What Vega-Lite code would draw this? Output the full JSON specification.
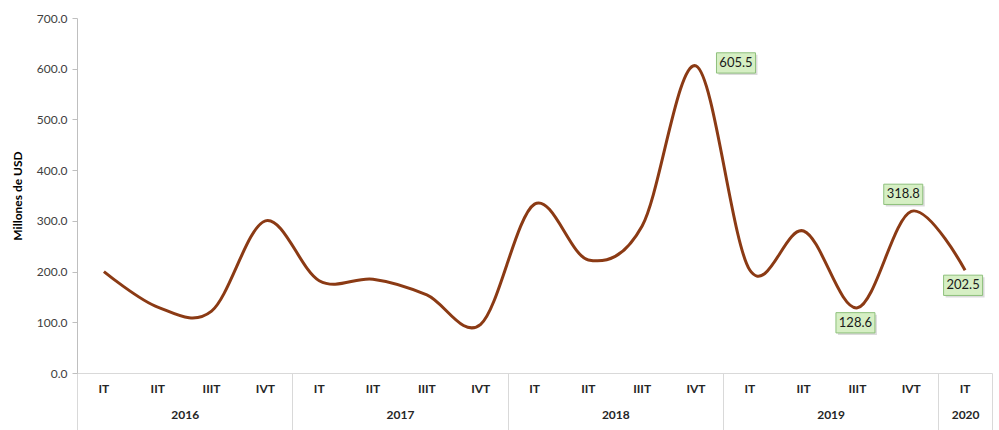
{
  "$schema": "https://vega.github.io/schema/vega-lite/v6.json",
  "width": 915,
  "height": 355,
  "autosize": {"type": "none"},
  "padding": {"left": 77, "top": 18, "right": 7, "bottom": 57},
  "background": "white",
  "config": {"view": {"stroke": null}, "font": "Lato"},
  "data": {
    "values": [
      {"key": "2016|IT", "year": "2016", "quarter": "IT", "value": 200},
      {"key": "2016|IIT", "year": "2016", "quarter": "IIT", "value": 130},
      {"key": "2016|IIIT", "year": "2016", "quarter": "IIIT", "value": 122},
      {"key": "2016|IVT", "year": "2016", "quarter": "IVT", "value": 300},
      {"key": "2017|IT", "year": "2017", "quarter": "IT", "value": 182},
      {"key": "2017|IIT", "year": "2017", "quarter": "IIT", "value": 185},
      {"key": "2017|IIIT", "year": "2017", "quarter": "IIIT", "value": 154},
      {"key": "2017|IVT", "year": "2017", "quarter": "IVT", "value": 96},
      {"key": "2018|IT", "year": "2018", "quarter": "IT", "value": 333},
      {"key": "2018|IIT", "year": "2018", "quarter": "IIT", "value": 223},
      {"key": "2018|IIIT", "year": "2018", "quarter": "IIIT", "value": 290},
      {"key": "2018|IVT", "year": "2018", "quarter": "IVT", "value": 605.5},
      {"key": "2019|IT", "year": "2019", "quarter": "IT", "value": 203},
      {"key": "2019|IIT", "year": "2019", "quarter": "IIT", "value": 280},
      {"key": "2019|IIIT", "year": "2019", "quarter": "IIIT", "value": 128.6},
      {"key": "2019|IVT", "year": "2019", "quarter": "IVT", "value": 318.8},
      {"key": "2020|IT", "year": "2020", "quarter": "IT", "value": 202.5}
    ]
  },
  "layer": [
    {
      "mark": {"type": "line", "interpolate": "cardinal", "color": "#8B3A14", "strokeWidth": 3},
      "encoding": {
        "x": {
          "field": "key", "type": "ordinal", "sort": null,
          "scale": {"type": "band", "paddingInner": 0, "paddingOuter": 0},
          "axis": {
            "orient": "bottom", "title": null, "domain": false, "ticks": false, "tickSize": 0,
            "grid": false, "labelAngle": 0,
            "labelExpr": "split(datum.value, '|')[1]",
            "labelFontWeight": "bold", "labelFontSize": 12, "labelColor": "#262626",
            "labelBaseline": "middle", "labelPadding": 15
          }
        },
        "y": {
          "field": "value", "type": "quantitative",
          "scale": {"domain": [0, 700]},
          "axis": {
            "title": "Millones de USD", "titleFontWeight": "bold", "titleFontSize": 12,
            "titleColor": "#000000", "titlePadding": 12,
            "format": ".1f", "values": [0, 100, 200, 300, 400, 500, 600, 700],
            "grid": false, "tickSize": 5, "tickColor": "#bfbfbf", "domainColor": "#bfbfbf",
            "labelFontSize": 12, "labelColor": "#404040", "labelPadding": 5
          }
        }
      }
    },
    {
      "mark": {"type": "point", "opacity": 0},
      "encoding": {
        "x": {
          "field": "key", "type": "ordinal", "sort": null,
          "scale": {"type": "band", "paddingInner": 0, "paddingOuter": 0},
          "axis": {
            "orient": "bottom", "title": null, "grid": false, "labelAngle": 0,
            "domain": true, "domainColor": "#d9d9d9",
            "ticks": true, "tickBand": "extent", "tickSize": 57,
            "tickColor": {"condition": {"test": "datum.value && split(datum.value, '|')[1] != 'IVT' && datum.value != '2020|IT'", "value": "transparent"}, "value": "#d9d9d9"},
            "labelExpr": "split(datum.value, '|')[1] == 'IIT' || datum.value == '2020|IT' ? split(datum.value, '|')[0] : ''",
            "labelOffset": {"condition": {"test": "datum.value == '2020|IT'", "value": 0}, "value": 27},
            "labelFontWeight": "bold", "labelFontSize": 12, "labelColor": "#262626",
            "labelBaseline": "middle", "labelPadding": -16
          }
        },
        "y": {"field": "value", "type": "quantitative"}
      }
    },
    {
      "transform": [{"filter": "datum.key == '2018|IVT'"}],
      "encoding": {
        "x": {"field": "key", "type": "ordinal", "sort": null, "scale": {"type": "band", "paddingInner": 0, "paddingOuter": 0}, "axis": null},
        "y": {"field": "value", "type": "quantitative"}
      },
      "layer": [
        {"mark": {"type": "point", "shape": "M-1,-0.52H1V0.52H-1Z", "size": 1521, "filled": true, "fill": "#000000", "opacity": 0.14, "strokeWidth": 0, "xOffset": 42, "yOffset": -1}},
        {"mark": {"type": "point", "shape": "M-1,-0.52H1V0.52H-1Z", "size": 1521, "filled": true, "fill": "#d6efc4", "stroke": "#8ec07c", "strokeWidth": 1, "opacity": 1, "xOffset": 40, "yOffset": -3}},
        {"mark": {"type": "text", "fontSize": 13, "color": "#1a1a1a", "align": "center", "baseline": "middle", "xOffset": 40, "yOffset": -3},
         "encoding": {"text": {"field": "value", "type": "quantitative", "format": ".1f"}}}
      ]
    },
    {
      "transform": [{"filter": "datum.key == '2019|IVT'"}],
      "encoding": {
        "x": {"field": "key", "type": "ordinal", "sort": null, "scale": {"type": "band", "paddingInner": 0, "paddingOuter": 0}, "axis": null},
        "y": {"field": "value", "type": "quantitative"}
      },
      "layer": [
        {"mark": {"type": "point", "shape": "M-1,-0.52H1V0.52H-1Z", "size": 1521, "filled": true, "fill": "#000000", "opacity": 0.14, "strokeWidth": 0, "xOffset": -6, "yOffset": -15}},
        {"mark": {"type": "point", "shape": "M-1,-0.52H1V0.52H-1Z", "size": 1521, "filled": true, "fill": "#d6efc4", "stroke": "#8ec07c", "strokeWidth": 1, "opacity": 1, "xOffset": -8, "yOffset": -17}},
        {"mark": {"type": "text", "fontSize": 13, "color": "#1a1a1a", "align": "center", "baseline": "middle", "xOffset": -8, "yOffset": -17},
         "encoding": {"text": {"field": "value", "type": "quantitative", "format": ".1f"}}}
      ]
    },
    {
      "transform": [{"filter": "datum.key == '2019|IIIT' || datum.key == '2020|IT'"}],
      "encoding": {
        "x": {"field": "key", "type": "ordinal", "sort": null, "scale": {"type": "band", "paddingInner": 0, "paddingOuter": 0}, "axis": null},
        "y": {"field": "value", "type": "quantitative"}
      },
      "layer": [
        {"mark": {"type": "point", "shape": "M-1,-0.52H1V0.52H-1Z", "size": 1521, "filled": true, "fill": "#000000", "opacity": 0.14, "strokeWidth": 0, "xOffset": 0, "yOffset": 17}},
        {"mark": {"type": "point", "shape": "M-1,-0.52H1V0.52H-1Z", "size": 1521, "filled": true, "fill": "#d6efc4", "stroke": "#8ec07c", "strokeWidth": 1, "opacity": 1, "xOffset": -2, "yOffset": 15}},
        {"mark": {"type": "text", "fontSize": 13, "color": "#1a1a1a", "align": "center", "baseline": "middle", "xOffset": -2, "yOffset": 15},
         "encoding": {"text": {"field": "value", "type": "quantitative", "format": ".1f"}}}
      ]
    }
  ],
  "resolve": {"axis": {"x": "independent"}}
}
